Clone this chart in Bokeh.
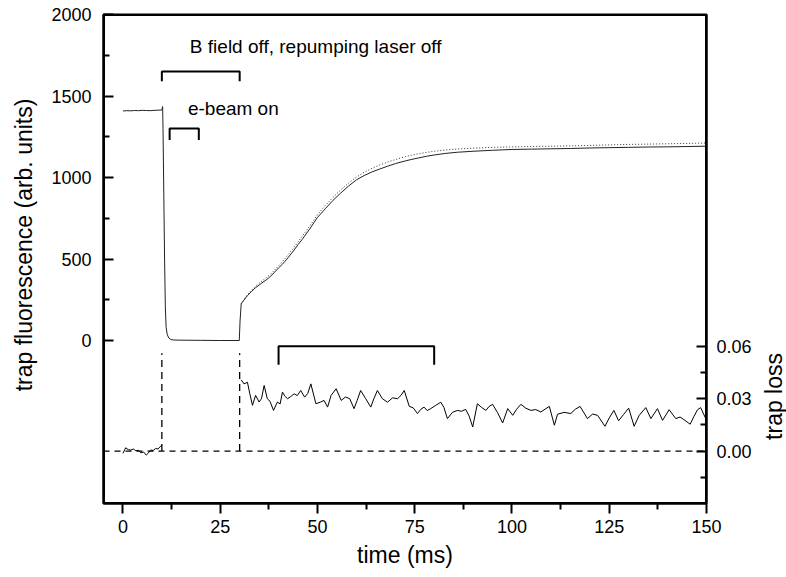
import math
from bokeh.plotting import figure
from bokeh.layouts import row
from bokeh.models import (Range1d, LinearAxis, FixedTicker, Span, Label, NumeralTickFormatter,
                          BoxAnnotation)
from bokeh.embed import file_html
from bokeh.resources import INLINE

# ---------------- data ----------------
# trap fluorescence (arb. units), measured
fluor_t = [0, 1, 2, 3, 4, 5, 6, 7, 8, 9, 10, 10.2, 10.3, 10.5, 10.7, 10.9, 11.1, 11.4, 11.8,
           12.3, 13, 15, 20, 25, 29.9, 30.1, 30.4, 31, 32, 33, 34, 35, 36, 37, 38, 39, 40,
           41, 42, 43, 44, 45, 46, 48, 50, 52, 54, 56, 58, 60, 62, 64, 66, 68, 70, 72, 74,
           76, 78, 80, 83, 86, 90, 95, 100, 105, 110, 115, 120, 125, 130, 135, 140, 145, 150]
fluor_v = [1408, 1410, 1409, 1411, 1410, 1412, 1411, 1410, 1412, 1413, 1414, 1435, 1300, 900,
           500, 200, 80, 35, 15, 6, 3, 2, 1, 0, 0, 120, 225, 245, 275, 300, 322, 340, 358,
           375, 395, 420, 445, 468, 495, 525, 555, 588, 618, 684, 755, 808, 860, 905, 948,
           985, 1012, 1034, 1052, 1069, 1085, 1098, 1110, 1120, 1130, 1138, 1148, 1155,
           1161, 1167, 1172, 1174, 1176, 1178, 1181, 1183, 1185, 1187, 1188, 1190, 1192]

# trap fluorescence, reference curve (dotted)
ref_t = [30.4, 32, 34, 36, 38, 40, 42, 44, 46, 48, 50, 52, 54, 56, 58, 60, 62, 64, 66, 68,
         70, 72, 74, 76, 78, 80, 83, 86, 90, 95, 100, 105, 110, 115, 120, 125, 130, 135,
         140, 145, 150]
ref_v = [225, 282, 332, 370, 408, 458, 512, 572, 637, 702, 772, 828, 878, 924, 966, 1002,
         1032, 1056, 1077, 1094, 1110, 1124, 1136, 1146, 1154, 1161, 1169, 1175, 1180,
         1185, 1188, 1190, 1192, 1194, 1197, 1200, 1203, 1205, 1207, 1209, 1212]

# trap loss
loss_pre_t = [0, 0.7, 1.4, 2, 2.7, 3.3, 4, 4.6, 5.3, 6, 6.5, 7.1, 7.8, 8.4, 9, 9.7, 10]
loss_pre_v = [-0.0013, 0.0019, 0.0008, 0.0006, 0.0012, 0.0002, 0.0005, -0.001, -0.0005,
              -0.0023, -0.0012, 0.0006, 0.0004, 0.0015, 0.0012, 0.0028, 0.0035]
loss_t = [30.4, 31.1, 32.0, 32.6, 33.3, 34.1, 35.0, 35.6, 36.3, 37.1, 37.8, 38.7, 39.7, 40.4,
          41.0, 41.6, 42.3, 43.1, 44.0, 44.8, 45.7, 46.7, 47.5, 48.3, 49.6, 50.8, 51.7,
          52.6, 53.5, 54.8, 56.1, 57.2, 58.3, 59.4, 60.2, 61.1, 62.4, 63.7, 64.5, 65.4,
          66.7, 68.0, 69.3, 70.6, 71.5, 72.3, 73.6, 74.6, 75.7, 76.6, 77.4, 78.2, 79.1,
          80.4, 81.7, 82.5, 83.4, 84.7, 86.0, 87.0, 88.1, 89.0, 89.9, 91.1, 92.2, 93.3,
          94.1, 95.0, 96.3, 97.6, 98.9, 100.2, 101.2, 102.3, 103.6, 104.9, 106.1, 107.4,
          108.5, 109.6, 110.9, 111.7, 113.4, 115.1, 116.3, 117.5, 119.4, 120.7, 122.0,
          123.9, 125.0, 126.2, 127.4, 128.7, 130.0, 131.4, 132.7, 134.4, 135.7, 137.4,
          138.7, 140.4, 142.1, 143.2, 144.2, 145.8, 146.8, 147.7, 148.5, 149.8]
loss_v = [0.0408, 0.0385, 0.0394, 0.0330, 0.0262, 0.0319, 0.0281, 0.0300, 0.0376, 0.0300,
          0.0285, 0.0233, 0.0281, 0.0270, 0.0338, 0.0315, 0.0300, 0.0312, 0.0328, 0.0318,
          0.0347, 0.0309, 0.0330, 0.0385, 0.0271, 0.0281, 0.0290, 0.0252, 0.0319, 0.0357,
          0.0290, 0.0310, 0.0300, 0.0243, 0.0290, 0.0347, 0.0300, 0.0252, 0.0300, 0.0347,
          0.0300, 0.0280, 0.0305, 0.0300, 0.0320, 0.0347, 0.0256, 0.0248, 0.0215, 0.0240,
          0.0252, 0.0232, 0.0243, 0.0262, 0.0280, 0.0250, 0.0186, 0.0222, 0.0233, 0.0228,
          0.0239, 0.0200, 0.0138, 0.0271, 0.0250, 0.0233, 0.0255, 0.0268, 0.0220, 0.0161,
          0.0243, 0.0205, 0.0240, 0.0268, 0.0245, 0.0233, 0.0238, 0.0224, 0.0240, 0.0256,
          0.0148, 0.0211, 0.0222, 0.0215, 0.0240, 0.0256, 0.0186, 0.0212, 0.0205, 0.0142,
          0.0190, 0.0233, 0.0174, 0.0210, 0.0246, 0.0142, 0.0205, 0.0249, 0.0186, 0.0243,
          0.0176, 0.0237, 0.0186, 0.0195, 0.0180, 0.0154, 0.0200, 0.0237, 0.0249, 0.0186]

# time intervals of the experimental sequence (ms)
field_off = [10, 30]
ebeam_on = [12, 19.5]
avg_window = [40, 80]

x_ticks = [0, 25, 50, 75, 100, 125, 150]
x_minor = [12.5, 37.5, 62.5, 87.5, 112.5, 137.5]
y_ticks = [0, 500, 1000, 1500, 2000]
y_minor = [250, 750, 1250, 1750]
loss_ticks = [0.0, 0.03, 0.06]
loss_minor = [-0.015, 0.015, 0.045]

FONT = "Liberation Sans"
TOP, FRAME_H, BOTTOM = 14, 489, 70
Y_RANGE = (-1000, 2000)
LOSS_RANGE = (-0.03, 0.25)

# ---------------- main figure ----------------
p = figure(frame_width=603, frame_height=FRAME_H, output_backend="svg", toolbar_location=None,
           title=None, x_range=Range1d(-5, 150), y_range=Range1d(*Y_RANGE),
           min_border_left=58, min_border_top=TOP, min_border_right=52,
           min_border_bottom=BOTTOM)
p.extra_y_ranges = {"loss": Range1d(*LOSS_RANGE)}
p.grid.visible = False
p.outline_line_color = "black"
p.outline_line_width = 2
p.background_fill_color = "white"
p.border_fill_color = "white"

xa = p.xaxis[0]
xa.ticker = FixedTicker(ticks=x_ticks, minor_ticks=x_minor)
xa.axis_label = "time (ms)"
xa.major_tick_in = 0
xa.major_tick_out = 10
xa.minor_tick_in = 0
xa.minor_tick_out = 6
xa.major_label_standoff = 6
xa.axis_label_standoff = 6

ya = p.yaxis[0]
ya.ticker = FixedTicker(ticks=y_ticks, minor_ticks=y_minor)
ya.major_tick_in = 10
ya.major_tick_out = 0
ya.minor_tick_in = 6
ya.minor_tick_out = 0
ya.major_label_standoff = 12

ra = LinearAxis(y_range_name="loss",
                ticker=FixedTicker(ticks=loss_ticks, minor_ticks=loss_minor))
ra.major_tick_in = 10
ra.major_tick_out = 0
ra.minor_tick_in = 6
ra.minor_tick_out = 0
ra.major_label_standoff = 10
ra.formatter = NumeralTickFormatter(format="0.00")
p.add_layout(ra, "right")

for ax in (xa, ya, ra):
    ax.axis_line_width = 2
    ax.axis_line_color = "black"
    ax.major_tick_line_width = 2
    ax.minor_tick_line_width = 2
    ax.major_tick_line_color = "black"
    ax.minor_tick_line_color = "black"
    ax.major_label_text_font = FONT
    ax.major_label_text_font_size = "18px"
    ax.major_label_text_color = "black"
    ax.axis_label_text_font = FONT
    ax.axis_label_text_font_size = "23px"
    ax.axis_label_text_font_style = "normal"
    ax.axis_label_text_color = "black"

# full frame box (ensures the top and right edges are drawn)
p.add_layout(BoxAnnotation(fill_alpha=0, line_color="black", line_width=3, line_alpha=1))

# reference lines
p.add_layout(Span(location=0, dimension="width", y_range_name="loss",
                  line_color="black", line_width=1.3, line_dash="6 5"))
p.segment(x0=field_off, y0=[0, 0], x1=field_off, y1=[0.056, 0.056], y_range_name="loss",
          line_color="black", line_width=1.3, line_dash="7 5")

# curves
p.line(ref_t, ref_v, line_color="#333333", line_width=1, line_dash="1 2")
p.line(fluor_t, fluor_v, line_color="#222222", line_width=1)
p.line(loss_pre_t, loss_pre_v, y_range_name="loss", line_color="black", line_width=1)
p.line(loss_t, loss_v, y_range_name="loss", line_color="black", line_width=1)

# brackets
p.line([field_off[0], field_off[0], field_off[1], field_off[1]], [1590, 1650, 1650, 1590],
       line_color="black", line_width=2)
p.line([ebeam_on[0], ebeam_on[0], ebeam_on[1], ebeam_on[1]], [1230, 1300, 1300, 1230],
       line_color="black", line_width=2)
p.line([avg_window[0], avg_window[0], avg_window[1], avg_window[1]], [0.0495, 0.06, 0.06, 0.0495],
       y_range_name="loss", line_color="black", line_width=2)

p.add_layout(Label(x=17.2, y=1805, text="B field off, repumping laser off", text_font=FONT,
                   text_font_size="19px", text_baseline="middle", text_color="black"))
p.add_layout(Label(x=16.7, y=1425, text="e-beam on", text_font=FONT,
                   text_font_size="19px", text_baseline="middle", text_color="black"))


# ---------------- side strips holding the vertical axis titles ----------------
def title_strip(width, y_range, text, x, y):
    s = figure(frame_width=width, frame_height=FRAME_H, output_backend="svg",
               toolbar_location=None, title=None, x_axis_type=None, y_axis_type=None,
               x_range=Range1d(0, width), y_range=Range1d(*y_range),
               min_border_left=0, min_border_right=0, min_border_top=TOP,
               min_border_bottom=BOTTOM)
    s.grid.visible = False
    s.outline_line_color = None
    s.background_fill_color = "white"
    s.border_fill_color = "white"
    s.add_layout(Label(x=x, y=y, text=text, angle=math.pi / 2, text_align="center",
                       text_baseline="middle", text_font=FONT, text_font_size="23px",
                       text_color="black"))
    return s


left = title_strip(45, Y_RANGE, "trap fluorescence (arb. units)", 23, 586)
right = title_strip(28, LOSS_RANGE, "trap loss", 15, 0.0313)

layout = row(left, p, right)
open("out.html", "w").write(file_html(layout, INLINE))
